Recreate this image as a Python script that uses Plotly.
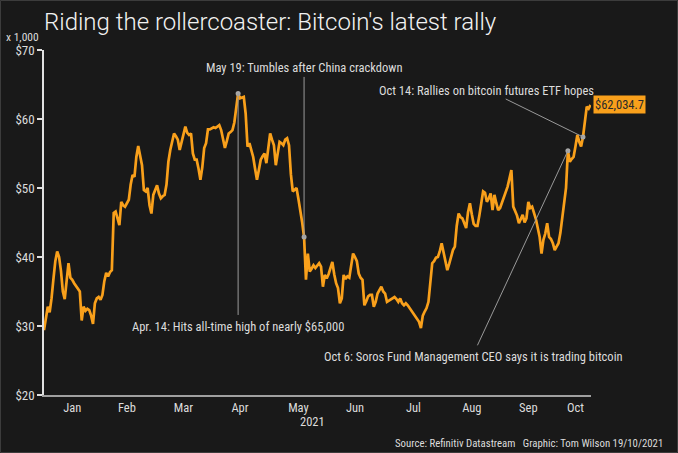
import pandas as pd
import plotly.graph_objects as go

# Bitcoin price, US$ thousands, daily Jan 1 - Oct 18 2021
jan = [29.4, 31.5, 32.8, 32.0, 34.0, 36.8, 39.4, 40.8, 40.0, 38.0, 35.0, 33.9, 37.0, 39.1, 37.0, 36.7,
       36.2, 35.8, 35.5, 35.0, 30.8, 32.8, 32.2, 32.5, 32.3, 31.5, 30.3, 33.3, 34.0, 34.2, 33.8]
feb = [34.5, 36.5, 37.7, 37.2, 37.8, 38.1, 46.4, 46.6, 45.5, 44.6, 48.0, 47.5, 47.3, 47.8, 48.3, 50.5,
       51.9, 51.6, 54.5, 56.1, 54.5, 53.3, 49.7, 49.5, 50.0, 47.5, 46.3, 49.0]
mar = [49.7, 50.4, 49.2, 48.5, 48.8, 49.0, 50.5, 53.8, 55.5, 57.0, 57.9, 57.5, 57.0, 55.5, 56.8, 58.0,
       58.9, 58.0, 57.7, 57.9, 55.0, 54.1, 54.1, 52.8, 51.2, 53.0, 55.8, 56.5, 58.5, 58.5, 58.6]
apr = [58.8, 58.7, 58.9, 59.1, 58.4, 57.2, 55.8, 56.8, 57.9, 58.1, 58.4, 59.5, 61.8, 63.7, 63.0, 63.1,
       63.2, 60.8, 56.0, 56.5, 55.4, 54.5, 52.8, 51.2, 52.6, 54.1, 54.6, 55.0, 53.6, 55.8]
may = [57.9, 57.0, 56.2, 53.3, 55.2, 56.7, 56.5, 56.2, 57.0, 57.2, 56.2, 52.0, 49.5, 49.8, 50.0, 48.4,
       46.8, 45.0, 42.9, 36.7, 40.5, 37.9, 38.3, 38.8, 38.4, 38.7, 39.1, 38.6, 35.7, 37.4, 36.9]
jun = [37.5, 38.3, 39.3, 37.5, 36.2, 35.5, 33.3, 34.0, 37.4, 36.8, 37.2, 37.0, 39.0, 40.5, 40.0, 39.4,
       37.6, 37.0, 36.7, 33.0, 33.6, 34.3, 34.5, 34.5, 32.8, 33.5, 34.7, 35.2, 35.7, 35.0]
jul = [34.7, 33.5, 33.7, 33.8, 34.0, 34.2, 33.9, 33.5, 34.0, 33.3, 33.0, 33.3, 33.0, 32.6, 32.2, 31.8,
       31.4, 31.1, 30.6, 29.7, 31.5, 32.1, 32.6, 33.5, 36.0, 39.1, 39.4, 39.9, 40.0, 40.8, 42.0]
aug = [40.5, 39.5, 38.1, 39.0, 40.0, 41.0, 41.5, 44.5, 46.3, 45.8, 45.6, 45.0, 44.2, 46.5, 47.8, 46.2,
       44.8, 44.5, 44.5, 46.0, 48.0, 49.5, 49.3, 48.0, 48.5, 49.2, 46.8, 49.0, 47.8, 46.8, 47.1]
sep = [47.8, 48.7, 49.2, 50.2, 51.4, 52.6, 47.3, 46.6, 46.0, 44.9, 45.5, 46.1, 45.0, 45.6, 48.0, 47.1,
       47.3, 46.5, 45.5, 44.2, 42.9, 40.5, 42.5, 43.4, 44.9, 42.9, 42.6, 42.0, 41.0, 41.5]
oct_ = [42.0, 43.5, 45.5, 47.8, 50.0, 55.4, 53.8, 54.2, 54.5, 56.0, 57.7, 56.7, 56.0, 57.4, 59.6, 61.8,
        61.5, 62.0347]

prices = jan + feb + mar + apr + may + jun + jul + aug + sep + oct_
dates = pd.date_range("2021-01-01", periods=len(prices), freq="D")
last_label = "$62,034.7"

y_tickvals = [20, 30, 40, 50, 60, 70]
y_ticktext = ["$20", "$30", "$40", "$50", "$60", "$70"]
month_tickvals = ["2021-01-16", "2021-02-14", "2021-03-16", "2021-04-15", "2021-05-16",
                  "2021-06-15", "2021-07-16", "2021-08-16", "2021-09-15", "2021-10-10"]
month_ticktext = ["Jan", "Feb", "Mar", "Apr", "May", "Jun", "Jul", "Aug", "Sep", "Oct"]

event_dates = ["2021-04-14", "2021-05-19", "2021-10-06", "2021-10-14"]
event_texts = ["Apr. 14: Hits all-time high of nearly $65,000",
               "May 19: Tumbles after China crackdown",
               "Oct 6: Soros Fund Management CEO says it is trading bitcoin",
               "Oct 14: Rallies on bitcoin futures ETF hopes"]

BG = "#191919"
ORANGE = "#F9A01B"
TXT = "#dcdcdc"
FONT = "Liberation Sans Narrow, Roboto Condensed, Roboto, sans-serif"

s = pd.Series(prices, index=dates)
ev_vals = [s[pd.Timestamp(d)] for d in event_dates]

fig = go.Figure()
fig.add_trace(go.Scatter(x=dates, y=prices, mode="lines",
                         line=dict(color=ORANGE, width=2.7), hoverinfo="skip"))

# leader lines (event point -> text)
leader_ends = [("2021-04-14", 31.6), ("2021-05-19", 66.1), ("2021-08-19", 27.2), ("2021-09-03", 62.9)]
for (d, v), (ex, ey) in zip(zip(event_dates, ev_vals), leader_ends):
    fig.add_shape(type="line", x0=d, y0=v, x1=ex, y1=ey, xref="x", yref="y",
                  line=dict(color="#9a9a9a", width=1))

fig.add_trace(go.Scatter(x=event_dates, y=ev_vals, mode="markers",
                         marker=dict(color="#a8a8a8", size=5), hoverinfo="skip"))

text_pos = [("2021-04-14", 30.0), ("2021-05-19", 67.5),
            ("2021-08-16 17:00", 25.55), ("2021-08-24", 64.1)]
for t, (x, y) in zip(event_texts, text_pos):
    fig.add_annotation(x=x, y=y, xref="x", yref="y", text=t, showarrow=False,
                       xanchor="center", yanchor="middle", font=dict(family=FONT, size=12.5, color=TXT))

# last value label
fig.add_annotation(x=dates[-1], y=prices[-1], xref="x", yref="y", text=last_label,
                   showarrow=False, xanchor="left", yanchor="middle", xshift=2,
                   bgcolor=ORANGE, borderpad=1,
                   font=dict(family=FONT, size=12.5, color="#2a2a2a"))

fig.add_annotation(x=-0.005, y=1.0, xref="paper", yref="paper", text="x 1,000", showarrow=False,
                   xanchor="right", yanchor="bottom", yshift=4,
                   font=dict(family=FONT, size=11.5, color=TXT))
fig.add_annotation(x=0.49, y=-0.05, xref="paper", yref="paper", text="2021", showarrow=False,
                   xanchor="center", yanchor="top", font=dict(family=FONT, size=12.5, color=TXT))
fig.add_annotation(x=1.135, y=-0.115, xref="paper", yref="paper",
                   text="Source: Refinitiv Datastream   Graphic: Tom Wilson 19/10/2021",
                   showarrow=False, xanchor="right", yanchor="top",
                   font=dict(family=FONT, size=10.8, color=TXT))

# thin frame round the graphic
fig.add_shape(type="rect", xref="paper", yref="paper",
              x0=(0.5 - 44) / 547, x1=(677.5 - 44) / 547,
              y0=(395 - 452.5) / 345, y1=(395 - 0.5) / 345,
              line=dict(color="#3c3c3c", width=1))

fig.update_layout(
    width=678, height=453,
    margin=dict(l=44, r=87, t=50, b=58),
    paper_bgcolor=BG, plot_bgcolor=BG,
    showlegend=False,
    title=dict(text="Riding the rollercoaster: Bitcoin's latest rally", x=44 / 678, xanchor="left",
               y=1 - 22 / 453, yanchor="middle",
               font=dict(family="Roboto, sans-serif", size=24, color="#f2f2f2", weight=300)),
    xaxis=dict(type="date", range=["2021-01-01", "2021-10-18 06:00"],
               tickmode="array", tickvals=month_tickvals, ticktext=month_ticktext,
               ticks="", showgrid=False, zeroline=False,
               showline=True, linecolor="#a0a0a0", linewidth=1.5,
               tickfont=dict(family=FONT, size=12.5, color=TXT)),
    yaxis=dict(range=[20, 70], tickmode="array", tickvals=y_tickvals, ticktext=y_ticktext,
               ticks="outside", ticklen=5, tickcolor="#e0e0e0", tickwidth=1.5,
               showgrid=False, zeroline=False,
               showline=True, linecolor="#e0e0e0", linewidth=1.5,
               tickfont=dict(family=FONT, size=13, color=TXT)),
)

fig.write_html("out.html", config={"displayModeBar": False},
               post_script="document.body.style.margin='0';")
